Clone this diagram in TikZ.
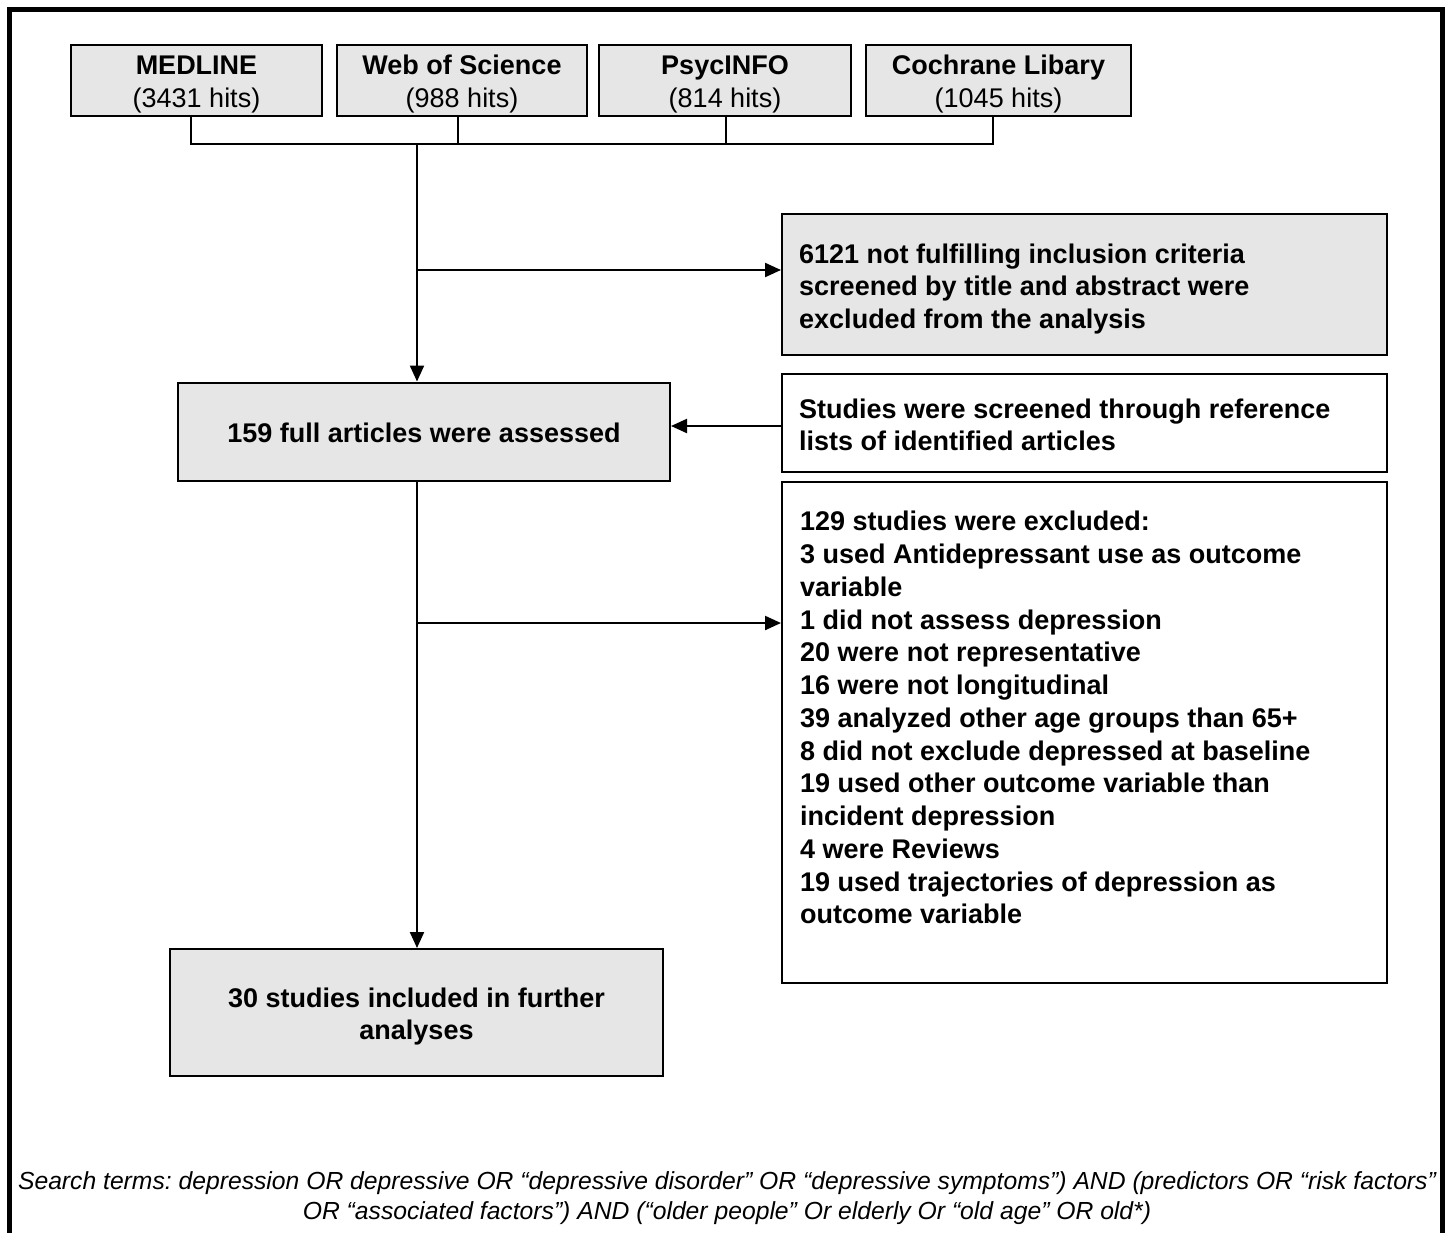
\documentclass[tikz,border=0pt]{standalone}
\usepackage{fontspec}
\setmainfont{Liberation Sans}
\usetikzlibrary{arrows.meta,calc}
\definecolor{boxgray}{RGB}{230,230,230}
\frenchspacing
\begin{document}
\begin{tikzpicture}[x=1pt,y=-1pt,
  box/.style={draw=black, line width=2pt, inner sep=0pt},
  gbox/.style={box, fill=boxgray},
  wbox/.style={box, fill=white},
  ctxt/.style={inner sep=0pt, align=center, font=\fontsize{27}{32.75}\selectfont\bfseries},
  dbtxt/.style={inner sep=0pt, align=center, font=\fontsize{27}{33}\selectfont},
  ltxt/.style={inner sep=0pt, align=left, anchor=west, font=\fontsize{27}{32.75}\selectfont\bfseries},
  line/.style={line width=2.2pt},
  arr/.style={line, -{Triangle[length=16pt,width=14pt]}},
  frame/.style={line width=4.5pt, line cap=rect},
]
\useasboundingbox (0,0) rectangle (1447,1232);
\fill[white] (0,0) rectangle (1447,1232);
\draw[frame] (9.5,1240) -- (9.5,9.5) -- (1442.5,9.5) -- (1442.5,1240);

% databases
\node[gbox, minimum width=251pt, minimum height=71pt] (med) at (196.5,80.5) {};
\node[gbox, minimum width=250pt, minimum height=71pt] (wos) at (462,80.5) {};
\node[gbox, minimum width=252pt, minimum height=71pt] (psy) at (725,80.5) {};
\node[gbox, minimum width=265pt, minimum height=71pt] (coc) at (998.5,80.5) {};
\node[dbtxt] (medT) at ([yshift=-4pt]med.center) {{\bfseries MEDLINE}\\(3431 hits)};
\node[dbtxt] (wosT) at ([yshift=-4pt]wos.center) {{\bfseries Web of Science}\\(988 hits)};
\node[dbtxt] (psyT) at ([yshift=-4pt]psy.center) {{\bfseries PsycINFO}\\(814 hits)};
\node[dbtxt] (cocT) at ([yshift=-4pt]coc.center) {{\bfseries Cochrane Libary}\\(1045 hits)};

% main column
\node[gbox, minimum width=492pt, minimum height=98.5pt] (full) at (424,431.75) {};
\node[ctxt] (fullT) at ([yshift=-1pt]full.center) {159 full articles were assessed};
\node[gbox, minimum width=493pt, minimum height=127pt] (incl) at (416.5,1012.5) {};
\node[ctxt] (inclT) at ([yshift=-4pt]incl.center) {30 studies included in further\\analyses};

% right column
\node[gbox, minimum width=605pt, minimum height=141pt] (ex1) at (1084.5,284.5) {};
\node[ltxt] (ex1T) at ([xshift=18pt,yshift=-4.5pt]ex1.west)
  {6121 not fulfilling inclusion criteria\\screened by title and abstract were\\excluded from the analysis};
\node[wbox, minimum width=605pt, minimum height=97.5pt] (ref) at (1084.5,422.75) {};
\node[ltxt] (refT) at ([xshift=18pt,yshift=-2pt]ref.west)
  {Studies were screened through reference\\lists of identified articles};
\node[wbox, minimum width=605pt, minimum height=501.5pt] (ex2) at (1084.5,732.25) {};
\node[ltxt, anchor=north west] (ex2T) at (800,511)
  {129 studies were excluded:\\
   3 used Antidepressant use as outcome\\
   variable\\
   1 did not assess depression\\
   20 were not representative\\
   16 were not longitudinal\\
   39 analyzed other age groups than 65+\\
   8 did not exclude depressed at baseline\\
   19 used other outcome variable than\\
   incident depression\\
   4 were Reviews\\
   19 used trajectories of depression as\\
   outcome variable};

% footnote
\node[inner sep=0pt, align=center, font=\fontsize{24.7}{30}\selectfont\itshape] (terms) at (727,1198)
  {Search terms: depression OR depressive OR “depressive disorder” OR “depressive symptoms”) AND (predictors OR “risk factors”\\
   OR “associated factors”) AND (“older people” Or elderly Or “old age” OR old*)};

% connectors
\coordinate (b1) at (191,144);
\coordinate (b2) at (458,144);
\coordinate (b3) at (726,144);
\coordinate (b4) at (993,144);
\coordinate (bm) at (417,144);
\draw[line] (med.south -| b1) -- (b1) -- (b4) -- (coc.south -| b4);
\draw[line] (wos.south -| b2) -- (b2);
\draw[line] (psy.south -| b3) -- (b3);
\draw[arr] (bm) -- (bm |- full.north);

\coordinate (j1) at (417,270);
\draw[arr] (j1) -- (j1 -| ex1.west);

\coordinate (j2) at (782,426);
\draw[arr] (j2) -- (j2 -| full.east);

\draw[arr] (full.south -| bm) -- (bm |- incl.north);

\coordinate (j3) at (417,623);
\draw[arr] (j3) -- (j3 -| ex2.west);
\end{tikzpicture}
\end{document}
